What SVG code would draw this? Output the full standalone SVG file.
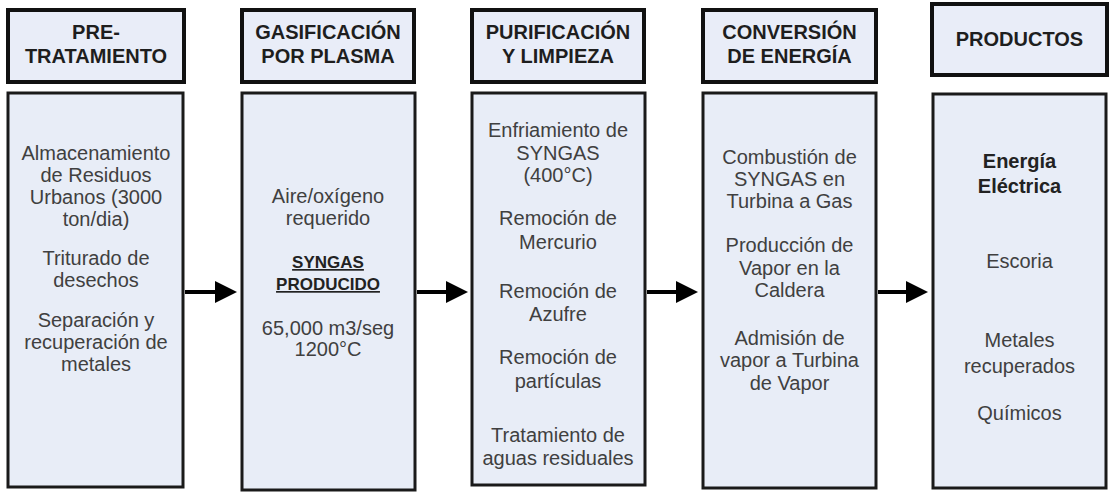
<svg xmlns="http://www.w3.org/2000/svg" width="1111" height="498" viewBox="0 0 1111 498">
<style>
.bg{fill:#ffffff}
.hdr{fill:#e9edf8;stroke:#111;stroke-width:4}
.body{fill:#e8edf7;stroke:#1a1a1a;stroke-width:3}
.ht{font-family:"Liberation Sans",Arial,sans-serif;font-size:20px;font-weight:bold;fill:#1e1e1e;text-anchor:middle}
.bt{font-family:"Liberation Sans",Arial,sans-serif;font-size:20px;fill:#404040;text-anchor:middle}
.bb{font-family:"Liberation Sans",Arial,sans-serif;font-size:20px;font-weight:bold;fill:#222;text-anchor:middle}
.bu{font-family:"Liberation Sans",Arial,sans-serif;font-size:17px;font-weight:bold;fill:#222;text-anchor:middle;text-decoration:underline}
.conn{stroke:#000;stroke-width:4;fill:none;marker-end:url(#ah)}
</style>
<defs>
<marker id="ah" markerUnits="userSpaceOnUse" markerWidth="24" markerHeight="24" refX="12" refY="11" orient="auto">
<path d="M0,0 L22,11 L0,22 z" fill="#000"/>
</marker>
</defs>
<rect class="bg" x="0" y="0" width="1111" height="498"/>

<g id="pretratamiento">
<rect class="hdr" x="8" y="10" width="176" height="72"/>
<text class="ht" x="96" y="39">PRE-</text>
<text class="ht" x="96" y="63">TRATAMIENTO</text>
<rect class="body" x="8" y="93" width="175" height="394"/>
<text class="bt" x="96" y="160">Almacenamiento</text>
<text class="bt" x="96" y="182">de Residuos</text>
<text class="bt" x="96" y="204">Urbanos (3000</text>
<text class="bt" x="96" y="226">ton/dia)</text>
<text class="bt" x="96" y="265">Triturado de</text>
<text class="bt" x="96" y="287">desechos</text>
<text class="bt" x="96" y="327">Separación y</text>
<text class="bt" x="96" y="349">recuperación de</text>
<text class="bt" x="96" y="371">metales</text>
</g>

<g id="gasificacion">
<rect class="hdr" x="242" y="10" width="172" height="72"/>
<text class="ht" x="328" y="39">GASIFICACIÓN</text>
<text class="ht" x="328" y="63">POR PLASMA</text>
<rect class="body" x="242" y="93" width="173" height="397"/>
<text class="bt" x="328" y="203">Aire/oxígeno</text>
<text class="bt" x="328" y="225">requerido</text>
<text class="bu" x="328" y="268">SYNGAS</text>
<text class="bu" x="328" y="290">PRODUCIDO</text>
<text class="bt" x="328" y="335">65,000 m3/seg</text>
<text class="bt" x="328" y="356">1200°C</text>
</g>

<g id="purificacion">
<rect class="hdr" x="472" y="10" width="172" height="72"/>
<text class="ht" x="558" y="39">PURIFICACIÓN</text>
<text class="ht" x="558" y="63">Y LIMPIEZA</text>
<rect class="body" x="472" y="93" width="173" height="392"/>
<text class="bt" x="558" y="137">Enfriamiento de</text>
<text class="bt" x="558" y="160">SYNGAS</text>
<text class="bt" x="558" y="182">(400°C)</text>
<text class="bt" x="558" y="225">Remoción de</text>
<text class="bt" x="558" y="249">Mercurio</text>
<text class="bt" x="558" y="298">Remoción de</text>
<text class="bt" x="558" y="321">Azufre</text>
<text class="bt" x="558" y="364">Remoción de</text>
<text class="bt" x="558" y="388">partículas</text>
<text class="bt" x="558" y="442">Tratamiento de</text>
<text class="bt" x="558" y="465">aguas residuales</text>
</g>

<g id="conversion">
<rect class="hdr" x="703" y="10" width="173" height="72"/>
<text class="ht" x="789.5" y="39">CONVERSIÓN</text>
<text class="ht" x="789.5" y="63">DE ENERGÍA</text>
<rect class="body" x="703" y="93" width="173" height="395"/>
<text class="bt" x="789.5" y="164">Combustión de</text>
<text class="bt" x="789.5" y="186">SYNGAS en</text>
<text class="bt" x="789.5" y="208">Turbina a Gas</text>
<text class="bt" x="789.5" y="252">Producción de</text>
<text class="bt" x="789.5" y="275">Vapor en la</text>
<text class="bt" x="789.5" y="297">Caldera</text>
<text class="bt" x="789.5" y="345">Admisión de</text>
<text class="bt" x="789.5" y="367">vapor a Turbina</text>
<text class="bt" x="789.5" y="390">de Vapor</text>
</g>

<g id="productos">
<rect class="hdr" x="932" y="4" width="175" height="71"/>
<text class="ht" x="1019.5" y="46">PRODUCTOS</text>
<rect class="body" x="933" y="94" width="173" height="394"/>
<text class="bb" x="1019.5" y="168">Energía</text>
<text class="bb" x="1019.5" y="193">Eléctrica</text>
<text class="bt" x="1019.5" y="268">Escoria</text>
<text class="bt" x="1019.5" y="347">Metales</text>
<text class="bt" x="1019.5" y="373">recuperados</text>
<text class="bt" x="1019.5" y="420">Químicos</text>
</g>

<g id="connectors">
<line class="conn" x1="185" y1="292" x2="227" y2="292"/>
<line class="conn" x1="417" y1="292" x2="458" y2="292"/>
<line class="conn" x1="647" y1="292" x2="688" y2="292"/>
<line class="conn" x1="878" y1="292" x2="918" y2="292"/>
</g>
</svg>
